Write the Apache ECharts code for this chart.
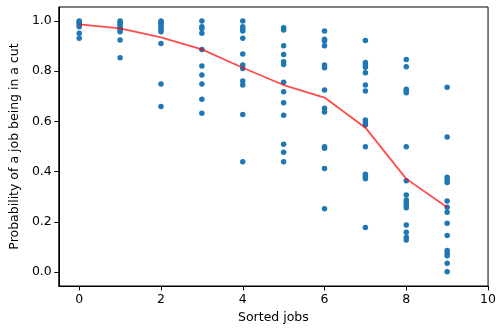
<!DOCTYPE html>
<html>
<head>
<meta charset="utf-8">
<script src="https://cdn.jsdelivr.net/npm/echarts@6/dist/echarts.min.js"></script>
<style>
  html, body { margin: 0; padding: 0; background: #fff; }
  #chart { width: 499px; height: 331px; }
</style>
</head>
<body>
<div id="chart"></div>
<script>
// Per-job cut probabilities, one list per sorted job position
const job0 = [1.0, 0.997, 0.99, 0.984, 0.977, 0.951, 0.931];
const job1 = [1.0, 0.995, 0.988, 0.98, 0.972, 0.964, 0.957, 0.924, 0.854];
const job2 = [1.0, 0.995, 0.988, 0.98, 0.972, 0.964, 0.957, 0.911, 0.749, 0.659];
const job3 = [1.0, 0.977, 0.97, 0.951, 0.887, 0.821, 0.785, 0.749, 0.688, 0.633];
const job4 = [1.0, 0.977, 0.968, 0.96, 0.931, 0.869, 0.825, 0.811, 0.761, 0.745, 0.628, 0.439];
const job5 = [0.973, 0.964, 0.902, 0.867, 0.838, 0.827, 0.756, 0.718, 0.674, 0.625, 0.509, 0.477, 0.439];
const job6 = [0.960, 0.927, 0.920, 0.902, 0.825, 0.814, 0.725, 0.652, 0.638, 0.499, 0.493, 0.412, 0.252];
const job7 = [0.922, 0.835, 0.825, 0.816, 0.794, 0.745, 0.721, 0.606, 0.596, 0.586, 0.499, 0.389, 0.380, 0.371, 0.177];
const job8 = [0.847, 0.818, 0.728, 0.721, 0.714, 0.499, 0.363, 0.307, 0.287, 0.276, 0.267, 0.256, 0.187, 0.158, 0.138, 0.127];
const job9 = [0.736, 0.538, 0.377, 0.367, 0.357, 0.283, 0.258, 0.238, 0.194, 0.145, 0.085, 0.074, 0.065, 0.035, 0.001];

// Mean probability per sorted job
const meanProb = [0.987, 0.971, 0.935, 0.887, 0.814, 0.745, 0.695, 0.575, 0.371, 0.258];

const xTicks = [0, 2, 4, 6, 8, 10];
const yTicks = [0.0, 0.2, 0.4, 0.6, 0.8, 1.0];

const jobs = [job0, job1, job2, job3, job4, job5, job6, job7, job8, job9];
const scatterData = [];
jobs.forEach((vals, i) => vals.forEach(v => scatterData.push([i, v])));
const lineData = meanProb.map((v, i) => [i, v]);

const font = 'DejaVu Sans';
const fs = 12.5;
const chart = echarts.init(document.getElementById('chart'), null, { renderer: 'canvas' });
chart.setOption({
  animation: false,
  backgroundColor: '#fff',
  grid: {
    left: 58, right: 10, top: 7, bottom: 45,
    show: true, borderColor: '#000', borderWidth: 1, backgroundColor: 'transparent'
  },
  xAxis: {
    type: 'value', min: -0.5, max: 10,
    name: 'Sorted jobs', nameLocation: 'middle', nameGap: 24,
    nameTextStyle: { fontFamily: font, fontSize: fs, color: '#000' },
    axisLine: { show: true, onZero: false, lineStyle: { color: '#000', width: 1 } },
    axisTick: { show: true, length: 4.4, customValues: xTicks, lineStyle: { color: '#000' } },
    axisLabel: { customValues: xTicks, fontFamily: font, fontSize: fs, color: '#000', margin: 7 },
    splitLine: { show: false }
  },
  yAxis: {
    type: 'value', min: -0.056, max: 1.056,
    name: 'Probability of a job being in a cut', nameLocation: 'middle', nameGap: 31,
    nameTextStyle: { fontFamily: font, fontSize: fs, color: '#000' },
    axisLine: { show: true, onZero: false, lineStyle: { color: '#000', width: 1 } },
    axisTick: { show: true, length: 4.4, customValues: yTicks, lineStyle: { color: '#000' } },
    axisLabel: {
      customValues: yTicks, fontFamily: font, fontSize: fs, color: '#000', margin: 7,
      formatter: v => v.toFixed(1)
    },
    splitLine: { show: false }
  },
  series: [
    {
      type: 'scatter', data: scatterData, symbolSize: 5.5,
      itemStyle: { color: '#1f77b4', opacity: 1 }, z: 2
    },
    {
      type: 'line', data: lineData, showSymbol: false, symbol: 'none',
      lineStyle: { color: 'rgba(255,0,0,0.7)', width: 1.8 }, z: 3
    }
  ]
});
</script>
</body>
</html>
